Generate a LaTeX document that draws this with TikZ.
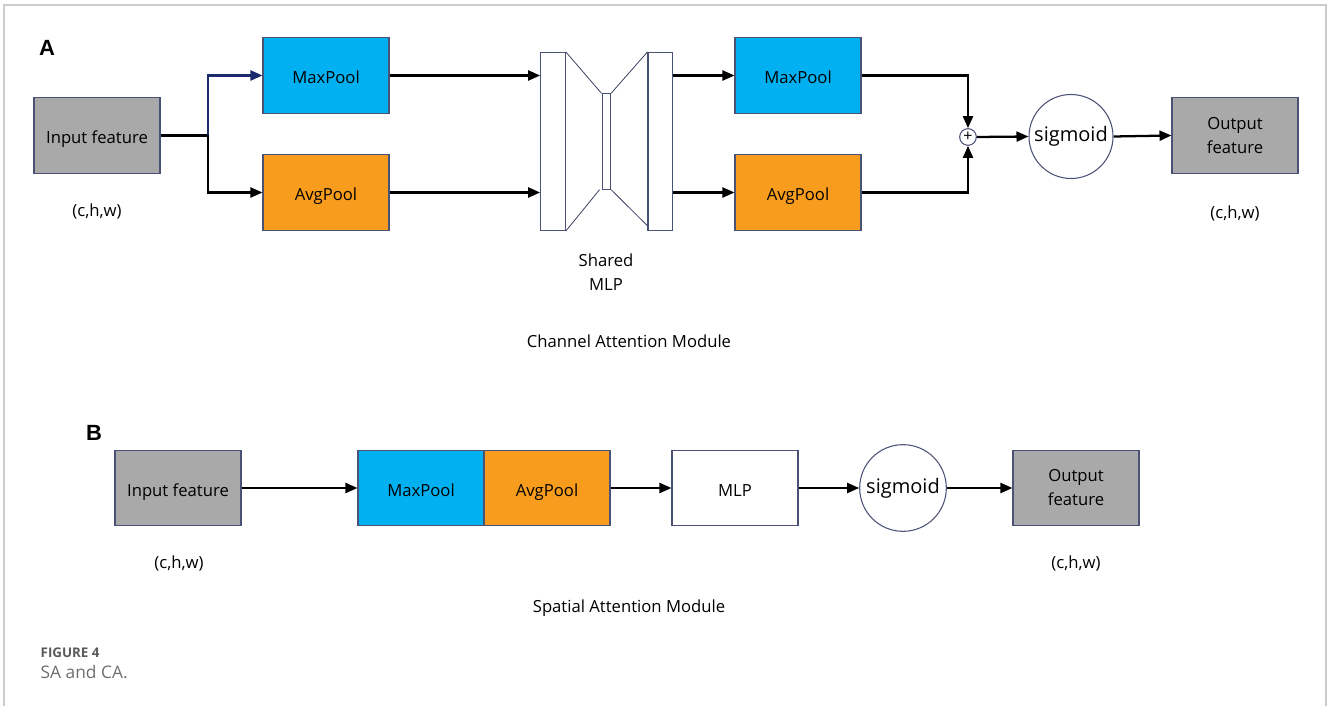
\documentclass[tikz,border=0pt]{standalone}
\usepackage{fontspec}
\setmainfont{Open Sans}
\newfontfamily\labfont{Liberation Sans}
\usetikzlibrary{arrows.meta}
\definecolor{cyanbox}{HTML}{00B0F0}
\definecolor{orangebox}{HTML}{F79C1C}
\definecolor{graybox}{HTML}{A9A9A9}
\definecolor{edgecol}{HTML}{4A5276}
\definecolor{navyline}{HTML}{1A2A6C}
\definecolor{framecol}{HTML}{CCCCCC}
\definecolor{captiongray}{HTML}{5A5A5A}
\definecolor{captionlight}{HTML}{6E6E6E}
\tikzset{
  box/.style={draw=edgecol, line width=0.8pt, minimum width=94.5pt, minimum height=56.5pt, inner sep=1pt, align=center, font=\fontsize{12.5}{18}\selectfont},
  oneline/.style={text height=13pt, text depth=1pt},
  graynode/.style={box, fill=graybox},
  cyannode/.style={box, oneline, fill=cyanbox},
  orangenode/.style={box, oneline, fill=orangebox},
  whitenode/.style={box, oneline, fill=white},
  mlpbar/.style={draw=edgecol, line width=0.8pt, fill=white, inner sep=0pt},
  sigcircle/.style={draw=edgecol, line width=0.8pt, circle, inner sep=0pt, font=\fontsize{15}{18}\selectfont},
  conn/.style={line width=1.7pt, -{Triangle[length=9pt,width=7.5pt]}},
  plain/.style={line width=1.7pt},
  thinline/.style={draw=edgecol!80!black, line width=0.6pt},
  txt/.style={font=\fontsize{12.5}{18}\selectfont, align=center},
  panel/.style={font=\labfont\bfseries\fontsize{16.5}{18}\selectfont}
}
\begin{document}
\begin{tikzpicture}[x=0.75pt,y=-0.75pt]
\useasboundingbox (0,0) rectangle (1328,706);
% frame
\draw[framecol, line width=0.8pt] (4,706) -- (4,5) -- (1326,5) -- (1326,706);

% ---------- Panel A ----------
\node[panel] (labA) at (47,48) {A};
\node[graynode, oneline] (inA) at (97,135.5) {Input feature};
\node[txt] (dimA1) at (97,211) {(c,h,w)};
\node[cyannode] (maxA1) at (326,75.5) {MaxPool};
\node[orangenode] (avgA1) at (326,192.5) {AvgPool};
\coordinate (jA) at (208,135.5);
\draw[plain] (inA.east) -- (jA);
\draw[conn] (jA) |- (avgA1.west);
\draw[conn, navyline] (jA) |- (maxA1.west);

% shared MLP
\node[mlpbar, minimum width=18.5pt, minimum height=133.5pt] (mlpL) at (553,141.5) {};
\node[mlpbar, minimum width=6.4pt, minimum height=71.5pt] (mlpM) at (606.3,141.5) {};
\node[mlpbar, minimum width=18.5pt, minimum height=133.5pt] (mlpR) at (660.3,141.5) {};
\draw[thinline] (mlpL.north east) -- (mlpM.north west);
\draw[thinline] (mlpM.north east) -- (mlpR.north west);
\draw[thinline] (mlpL.south east) -- ([xshift=-1.5]mlpM.south west);
\draw[thinline] (mlpM.south east) -- ([yshift=4]mlpR.south west);
\node[txt] (shared) at (606,272) {Shared\\MLP};

\draw[conn] (maxA1.east) -- (mlpL.west |- maxA1.east);
\draw[conn] (avgA1.east) -- (mlpL.west |- avgA1.east);

\node[cyannode] (maxA2) at (798,75.5) {MaxPool};
\node[orangenode] (avgA2) at (798,192.5) {AvgPool};
\draw[conn] (mlpR.east |- maxA2.west) -- (maxA2.west);
\draw[conn] (mlpR.east |- avgA2.west) -- (avgA2.west);

\node[draw=edgecol, line width=0.8pt, circle, minimum size=12.5pt, inner sep=0pt, font=\fontsize{12}{12}\selectfont] (plus) at (968,137) {+};
\draw[conn] (maxA2.east) -| (plus.north);
\draw[conn] (avgA2.east) -| (plus.south);

\node[sigcircle, minimum size=63pt] (sigA) at (1071,136.5) {sigmoid};
\draw[conn] (plus.east) -- (sigA.west);
\node[graynode] (outA) at (1235,135.5) {Output\\feature};
\draw[conn] (sigA.east) -- (outA.west);
\node[txt] (dimA2) at (1235,213) {(c,h,w)};

\node[txt] (titleA) at (629,341) {Channel Attention Module};

% ---------- Panel B ----------
\node[panel] (labB) at (94,433) {B};
\node[graynode, oneline] (inB) at (178,488) {Input feature};
\node[txt] (dimB1) at (179,563) {(c,h,w)};
\node[cyannode] (maxB) at (421,488) {MaxPool};
\node[orangenode] (avgB) at (547,488) {AvgPool};
\draw[conn] (inB.east) -- (maxB.west);
\node[whitenode] (mlpB) at (735,488) {MLP};
\draw[conn] (avgB.east) -- (mlpB.west);
\node[sigcircle, minimum size=65pt] (sigB) at (903,488) {sigmoid};
\draw[conn] (mlpB.east) -- (sigB.west);
\node[graynode] (outB) at (1076,488) {Output\\feature};
\draw[conn] (sigB.east) -- (outB.west);
\node[txt] (dimB2) at (1076,563) {(c,h,w)};

\node[txt] (titleB) at (629,608) {Spatial Attention Module};

% caption
\node[anchor=west, text=captiongray, font=\bfseries\fontsize{10}{12}\selectfont] (fig) at (36,653) {FIGURE 4};
\node[anchor=west, text=captionlight, font=\fontsize{13}{15}\selectfont] (cap) at (36,672) {SA and CA.};
\end{tikzpicture}
\end{document}
